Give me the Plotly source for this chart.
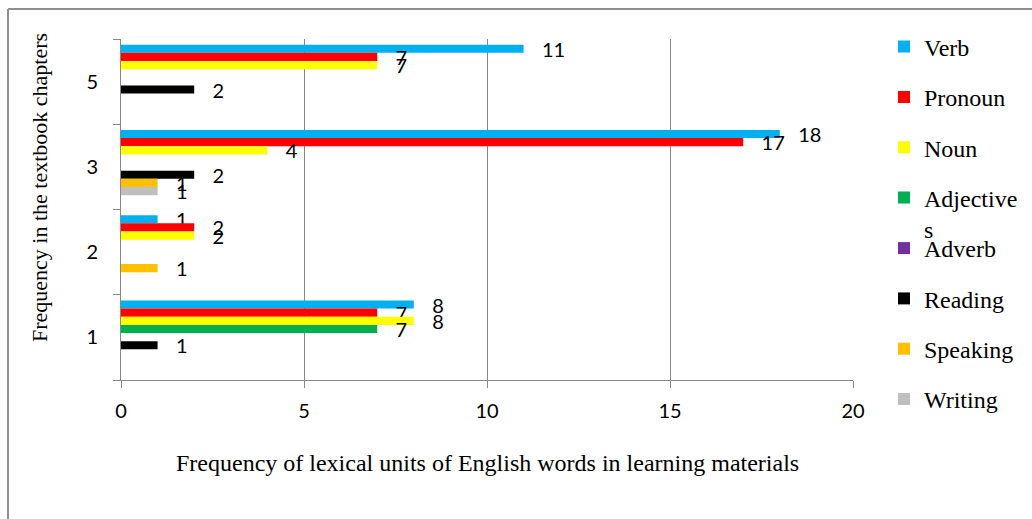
import plotly.graph_objects as go

# ---- data ----
chapters = ["1", "2", "3", "5"]
series_names = ["Verb", "Pronoun", "Noun", "Adjectives", "Adverb", "Reading", "Speaking", "Writing"]
legend_labels = ["Verb", "Pronoun", "Noun", "Adjective<br>s", "Adverb", "Reading", "Speaking", "Writing"]
verb = [8, 1, 18, 11]
pronoun = [7, 2, 17, 7]
noun = [8, 2, 4, 7]
adjectives = [7, None, None, None]
adverb = [None, None, None, None]
reading = [1, None, 2, 2]
speaking = [None, 1, 1, None]
writing = [None, None, 1, None]
values = [verb, pronoun, noun, adjectives, adverb, reading, speaking, writing]
colors = ["#00B0F0", "#FF0000", "#FFFF00", "#00B050", "#7030A0", "#000000", "#FFC000", "#BFBFBF"]

# ---- geometry (pixels) ----
W, H = 1032, 519
PL, PR, PT, PB = 121, 853, 39, 380
pw, ph = PR - PL, PB - PT
band = ph / len(chapters)
bar_w = 8.15 / band
top_edge = 0.5 - 5.7 / band

def px_to_paper_x(px):
    return (px - PL) / pw

def px_to_paper_y(py):
    return (PB - py) / ph

GRID = "#888888"
SANS = "Lato, 'Open Sans', sans-serif"
SERIF = "'Liberation Serif', 'Times New Roman', serif"
LEG_FONT = 24
LEG_GAP = 50.3 - (LEG_FONT * 1.3 + 3)

fig = go.Figure()
for i, (name, lab, vals, col) in enumerate(zip(series_names, legend_labels, values, colors)):
    fig.add_trace(go.Bar(
        y=chapters, x=vals, orientation="h", name=lab,
        marker=dict(color=col, line=dict(width=0)),
        width=bar_w, offset=top_edge - (i + 1) * bar_w,
        text=[None if v is None else str(v) for v in vals],
        texttemplate="\u00a0\u00a0\u00a0%{text}",
        textposition="outside", constraintext="none", cliponaxis=False,
        textfont=dict(family=SANS, size=20, color="#000000"),
        legend="legend" if i < 4 else "legend2",
        legendgroup=name,
        hoverinfo="x+name",
    ))

fig.update_layout(
    width=W, height=H,
    margin=dict(l=PL, r=W - PR, t=PT, b=H - PB, pad=0, autoexpand=False),
    paper_bgcolor="white", plot_bgcolor="white",
    barmode="overlay",
    xaxis=dict(range=[0, 20], dtick=5, tick0=0, showgrid=True, gridcolor=GRID, gridwidth=1,
               showline=True, linecolor=GRID, linewidth=1, ticks="outside", ticklen=7,
               tickcolor=GRID, tickfont=dict(family=SANS, size=20, color="#000000"),
               ticklabelstandoff=6, zeroline=False, fixedrange=True),
    yaxis=dict(type="category", categoryorder="array", categoryarray=chapters,
               range=[-0.5, len(chapters) - 0.5], tickson="boundaries",
               showline=True, linecolor=GRID, linewidth=1, ticks="outside", ticklen=7,
               tickcolor=GRID, showgrid=False, tickfont=dict(family=SANS, size=20, color="#000000"),
               ticklabelstandoff=18, fixedrange=True),
    legend=dict(x=px_to_paper_x(884), xanchor="left", y=px_to_paper_y(24.5), yanchor="top",
                font=dict(family=SERIF, size=LEG_FONT, color="#000000"), tracegroupgap=LEG_GAP,
                valign="top", bgcolor="rgba(0,0,0,0)", borderwidth=0),
    legend2=dict(x=px_to_paper_x(884), xanchor="left", y=px_to_paper_y(226), yanchor="top",
                 font=dict(family=SERIF, size=LEG_FONT, color="#000000"), tracegroupgap=LEG_GAP,
                 valign="top", bgcolor="rgba(0,0,0,0)", borderwidth=0),
    annotations=[
        dict(text="Frequency of lexical units of English words in learning materials",
             xref="paper", yref="paper", x=0.5, y=px_to_paper_y(463),
             xanchor="center", yanchor="middle", showarrow=False,
             font=dict(family=SERIF, size=24, color="#000000")),
        dict(text="Frequency in the textbook chapters",
             xref="paper", yref="paper", x=px_to_paper_x(40), y=px_to_paper_y(188),
             xanchor="center", yanchor="middle", showarrow=False, textangle=-90,
             font=dict(family=SERIF, size=22, color="#000000")),
    ],
    shapes=[
        dict(type="line", xref="paper", yref="paper", layer="below",
             x0=px_to_paper_x(8), x1=px_to_paper_x(W + 10), y0=px_to_paper_y(9), y1=px_to_paper_y(9),
             line=dict(color="#8E8E8E", width=2)),
        dict(type="line", xref="paper", yref="paper", layer="below",
             x0=px_to_paper_x(8), x1=px_to_paper_x(8), y0=px_to_paper_y(9), y1=px_to_paper_y(H + 10),
             line=dict(color="#8E8E8E", width=2)),
    ],
)

fig.write_html("out.html", config={"displayModeBar": False},
               post_script="document.body.style.margin='0px';document.body.style.overflow='hidden';")
